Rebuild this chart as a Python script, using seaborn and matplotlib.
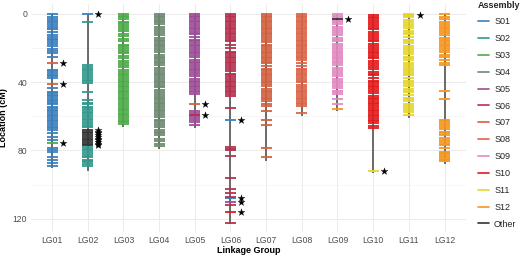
import numpy as np
import pandas as pd
import seaborn as sns
import matplotlib
matplotlib.use('Agg')
import matplotlib.pyplot as plt
from matplotlib.lines import Line2D

# linkage groups and their lengths (cM)
lg_names = ['LG01', 'LG02', 'LG03', 'LG04', 'LG05', 'LG06',
            'LG07', 'LG08', 'LG09', 'LG10', 'LG11', 'LG12']
lg_length = [90, 92, 66, 79, 67, 123, 86, 60, 57, 93, 61, 88]

assemblies = ['S01', 'S02', 'S03', 'S04', 'S05', 'S06',
              'S07', 'S08', 'S09', 'S10', 'S11', 'S12', 'Other']
colors = ['#3a80bf', '#33998c', '#4dab48', '#6e8a70', '#9e4b98', '#b8304f',
          '#d4603f', '#db6448', '#e48ac2', '#e41a1c', '#e6d62a', '#f7961e', '#333333']

# marker positions (cM) belonging to each group's own assembly
lg01 = [0, 1.5, 3, 4, 5, 6, 7, 8, 9, 10.5, 12.3, 13.7, 14.6, 15.5, 16.3, 17.5, 19, 20.3,
        21.5, 23, 25, 32.8, 33.7, 34.6, 35.5, 36.4, 37.5, 43.6, 45.5, 46.5, 47.4, 48.3,
        49.2, 50.3, 51.2, 52.1, 53, 54.3, 55.2, 56.1, 57, 58, 59, 60, 61.2, 62.1, 63, 64,
        65, 66, 67, 68, 70, 72, 74, 78.7, 79.6, 80.6, 83.6, 85.6, 87.5, 89]
lg02 = [5, 30, 31, 32, 33, 34, 35.2, 36.5, 37.5, 38.5, 39.5, 40.5, 45.5, 50.4, 52, 53,
        54.3, 55.3, 56.2, 57.2, 58.3, 59.3, 60.3, 61.3, 62.3, 63.3, 64.5, 65.5, 66.5, 78,
        79, 80, 81, 82.3, 83.2, 84, 85.3, 86.2, 87, 88, 89]
lg03 = [0, 1, 2, 3, 4.5, 5.5, 6.5, 7.5, 9, 10, 11.5, 13, 14.5, 16, 18, 19, 20, 21, 22, 23,
        24.5, 26, 27.5, 29, 30, 31, 33, 34, 35, 36, 37, 38, 39, 40, 41, 42, 43, 44, 45, 46,
        47, 48, 49, 50, 51, 52, 53.2, 54.5, 55.5, 56.5, 57.5, 58.5, 59.5, 60.5, 61.5,
        62.5, 63.5, 64.5]
lg04 = [0, 1, 2, 3, 4, 5, 6, 7.5, 9, 10, 11, 12.5, 14, 15, 16, 17, 18, 19, 20, 21, 22.5,
        24, 25, 26, 27, 28, 29, 30, 31.5, 33, 34, 35, 36, 37, 38, 39, 40, 41, 42, 43, 44.5,
        46, 47, 48, 49, 50, 51, 52, 53, 54, 55, 56, 57, 58, 59, 60.5, 62, 63, 64, 65, 66.5,
        68, 69, 70, 71, 73, 74.5, 76, 77.5]
lg05 = [0, 1, 2, 3, 4, 5, 6, 7, 8, 9, 10, 11, 12, 13.5, 15, 16, 17, 18, 19, 20, 21, 22, 23,
        24, 25.5, 27, 28, 29, 30, 31, 32, 33, 34, 35, 36.5, 38, 39, 40, 41, 42, 43, 44, 45,
        46, 47, 57, 58, 59, 60, 61, 62, 63.5, 65]
lg06 = [0, 1, 2, 3, 4, 5, 6, 7, 8, 9, 10, 11, 12, 13, 14, 15, 16, 18, 20, 22, 23, 24, 25,
        26, 27, 28, 29, 30, 31, 32, 33.5, 35, 36, 37, 38, 39, 40, 41, 42, 43, 44, 45, 46,
        47, 48, 55, 78, 79, 80, 83, 96, 102.6, 105, 107, 112, 122.5]
lg07 = [0, 1, 2, 3, 4, 5, 6, 7, 8, 9, 10, 11, 12, 13, 14, 15, 16.5, 18, 19, 20, 21, 22,
        23, 24, 25, 26, 27, 28, 29, 30.5, 32, 33, 34, 35, 36, 37, 38, 39, 40, 41, 42.5, 44,
        45, 46, 47, 48, 49, 50, 51, 52.5, 54, 57, 62, 65, 78.6, 84]
lg08 = [0, 1, 2, 3, 4, 5, 6, 7, 8, 9, 10, 11, 12, 13, 14, 15, 16, 17, 18, 19, 20, 21, 22,
        23, 24, 25, 26, 27, 29, 30.5, 32, 33, 34, 35, 36, 37, 38, 39, 40, 41.5, 43, 44, 45,
        46, 47, 48, 49, 50, 51, 52, 53, 54, 58]
lg09 = [0, 1, 2, 4, 5, 6, 7.5, 9, 10, 11, 12.5, 14, 15, 16, 17.5, 19, 20, 21, 22, 23, 24,
        25, 26, 27, 28, 29, 30, 31.5, 33, 34, 35, 36.5, 38, 39, 40, 41, 42, 43.5, 45, 46,
        47, 50, 53]
lg10 = [0.5, 1.5, 2.5, 3.5, 4.5, 6, 7, 8, 9, 10.5, 12, 13, 14, 15, 16, 17.5, 19, 20, 21,
        22, 23, 24, 25, 26, 27.5, 29, 30, 31, 32.5, 34, 35, 36, 37.5, 39, 40, 41, 42, 43,
        44, 45, 46.5, 48, 49, 50, 51, 52, 53, 54, 55, 56, 57, 58, 59, 60, 61, 62, 63, 64,
        65.5, 67]
lg11 = [0, 1, 2, 3.5, 5, 6, 7, 8.5, 10, 11, 12, 13.5, 15, 16, 17, 18.5, 20, 21, 22, 23.5,
        25, 26, 27, 28.5, 30, 31, 32, 33, 34, 35, 36, 37.5, 39, 40, 41, 42.5, 44, 45, 46,
        47.5, 49, 50, 51, 52.5, 54, 55, 56, 57.5, 59]
lg12 = [0, 1.5, 3, 4.5, 6, 7, 8, 9, 10, 11, 12.5, 14, 15, 16, 17, 18, 19, 20, 21, 22.5, 24,
        25.5, 27, 28.5, 30, 45, 50, 62, 63, 64, 65, 66, 67.5, 69, 70, 71, 72.5, 74, 75, 76,
        77, 78.5, 80.7, 81.5, 82.3, 83.1, 84, 84.8, 85.6, 86.3]
own_positions = [lg01, lg02, lg03, lg04, lg05, lg06, lg07, lg08, lg09, lg10, lg11, lg12]

# markers placed in another assembly (group, cM, assembly, starred)
extra_lg = ['LG01', 'LG01', 'LG01', 'LG02', 'LG02', 'LG02', 'LG02', 'LG02', 'LG02', 'LG02',
            'LG02', 'LG02', 'LG02', 'LG02', 'LG05', 'LG05', 'LG06', 'LG06', 'LG06', 'LG06',
            'LG09', 'LG09', 'LG10', 'LG11']
extra_pos = [28.5, 41.2, 75.4, 0, 68, 69, 70, 71, 72, 73, 74, 75, 76, 77, 52.8, 59.3, 62,
             108, 110, 116, 2.8, 55.6, 92, 0.5]
extra_asm = ['S07', 'S07', 'S03', 'S01', 'Other', 'Other', 'Other', 'Other', 'Other',
             'Other', 'Other', 'Other', 'Other', 'Other', 'S07', 'S06', 'S01', 'S01', 'S05',
             'S10', 'Other', 'S12', 'S11', 'S11']
extra_star = [1, 1, 1, 1, 1, 1, 1, 1, 1, 1, 1, 1, 1, 1, 1, 1, 1, 1, 1, 1, 1, 0, 1, 1]

rows = []
for i, name in enumerate(lg_names):
    for p in own_positions[i]:
        rows.append((name, p, assemblies[i], 0))
for g, p, a, s in zip(extra_lg, extra_pos, extra_asm, extra_star):
    rows.append((g, p, a, s))
df = pd.DataFrame(rows, columns=['LG', 'Position', 'Assembly', 'Star'])
df['x'] = df['LG'].map({n: i for i, n in enumerate(lg_names)})
pal = dict(zip(assemblies, colors))

sns.set_theme(style='whitegrid')
plt.rcParams['font.family'] = ['Liberation Sans', 'DejaVu Sans']

fig = plt.figure(figsize=(5.2, 2.59), dpi=100)
ax = fig.add_axes([0.059, 0.104, 0.837, 0.881])

# chromosome backbones
ax.vlines(range(len(lg_names)), 0, lg_length, color='#444444', linewidth=1.1, zorder=2)

# markers
half = 0.155
for a in assemblies:
    sub = df[df['Assembly'] == a]
    ax.hlines(sub['Position'], sub['x'] - half, sub['x'] + half, color=pal[a],
              linewidth=1.45, alpha=0.9, zorder=3)

# stars next to misplaced markers
stars = df[df['Star'] == 1].copy()
stars['sx'] = stars['x'] + 0.3
sns.scatterplot(data=stars, x='sx', y='Position', marker='*', s=28, color='black',
                edgecolor='black', linewidth=0.2, ax=ax, zorder=4, legend=False)

ax.set_xlim(-0.6, len(lg_names) - 0.4)
ax.set_ylim(127.8, -5.9)
ax.set_xticks(range(len(lg_names)))
ax.set_xticklabels(lg_names)
ax.set_yticks([0, 40, 80, 120])
ax.set_yticks([20, 60, 100], minor=True)
ax.grid(True, which='major', color='#ebebeb', linewidth=0.7)
ax.grid(True, which='minor', axis='y', color='#f3f3f3', linewidth=0.5)
ax.set_facecolor('white')
for s in ax.spines.values():
    s.set_visible(False)
ax.tick_params(axis='both', labelsize=6.2, colors='#4d4d4d', length=0, pad=2.5)
ax.set_xlabel('Linkage Group', fontsize=6.5, fontweight='bold', labelpad=1, color='black')
ax.set_ylabel('Location (cM)', fontsize=6.5, fontweight='bold', color='black')
ax.yaxis.set_label_coords(-0.052, 0.5)

handles = [Line2D([0], [0], color=pal[a], linewidth=1.2) for a in assemblies]
leg = fig.legend(handles, assemblies, title='Assembly', loc='upper left',
                 bbox_to_anchor=(0.912, 1.012), frameon=False, fontsize=6.5,
                 title_fontsize=6.5, labelspacing=0.87, handlelength=1.2,
                 handletextpad=0.6, borderaxespad=0.0)
leg.get_title().set_fontweight('bold')
leg._legend_box.align = 'left'

fig.savefig('out.png', dpi=100)
